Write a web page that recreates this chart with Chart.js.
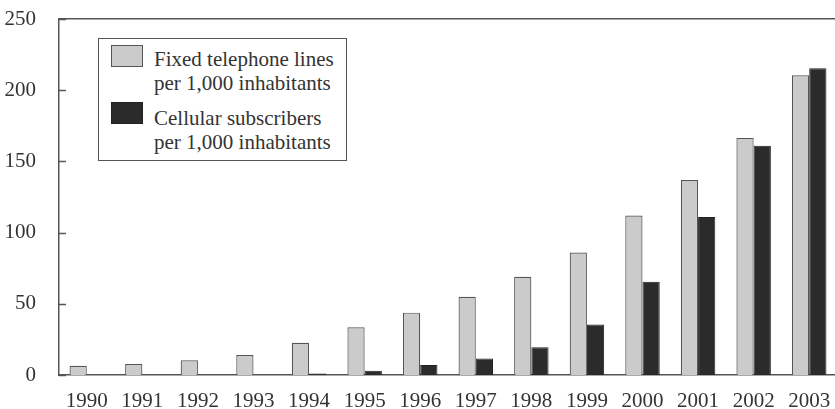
<!DOCTYPE html>
<html>
<head>
<meta charset="utf-8">
<script src="https://cdn.jsdelivr.net/npm/chart.js@4"></script>
<style>
	html, body { margin: 0; padding: 0; background: #fff; overflow: hidden; }
	#wrap { position: relative; width: 837px; height: 409px; }
	#legend {
		position: absolute; left: 98px; top: 38px; width: 247px; height: 121px;
		border: 1.5px solid #555; background: #fff;
		font-family: 'Liberation Serif', 'DejaVu Serif', serif; font-size: 21px; color: #333;
	}
	.item { position: absolute; left: 12px; }
	.sw { position: absolute; left: 0; width: 32px; height: 22px; box-sizing: border-box; }
	.txt { position: absolute; left: 43px; line-height: 24px; white-space: nowrap; }
</style>
</head>
<body>
<div id="wrap">
	<canvas id="telecomChart" width="837" height="409"></canvas>
	<div id="legend">
		<div class="item" style="top:6px">
			<div class="sw" style="background:#cbcbcb;border:1.5px solid #555"></div>
			<div class="txt" style="top:2px">Fixed telephone lines<br>per 1,000 inhabitants</div>
		</div>
		<div class="item" style="top:63px">
			<div class="sw" style="background:#2b2b2b;border:1.5px solid #222"></div>
			<div class="txt" style="top:4px">Cellular subscribers<br>per 1,000 inhabitants</div>
		</div>
	</div>
</div>
<script>
const years = ['1990', '1991', '1992', '1993', '1994', '1995', '1996', '1997', '1998', '1999', '2000', '2001', '2002', '2003'];
const fixedLines = [6.5, 7.7, 10.3, 14, 22.7, 33.5, 43.8, 55, 69, 86, 112, 137, 166.5, 210.5];
const cellular = [0, 0, 0, 0, 1, 3, 7, 11.5, 19.5, 35.5, 65.5, 111, 161, 215.5];
const yTicks = [0, 50, 100, 150, 200, 250];

const serif = "'Liberation Serif', 'DejaVu Serif', serif";

// short ticks pointing into the plot on the y axis
const innerTicks = {
	id: 'innerTicks',
	afterDraw(chart) {
		const ctx = chart.ctx;
		const y = chart.scales.y;
		ctx.save();
		ctx.strokeStyle = '#555';
		ctx.lineWidth = 1.5;
		yTicks.forEach(v => {
			const py = Math.round(y.getPixelForValue(v)) + 0.5;
			ctx.beginPath();
			ctx.moveTo(y.right, py);
			ctx.lineTo(y.right + 7, py);
			ctx.stroke();
		});
		ctx.restore();
	}
};

new Chart(document.getElementById('telecomChart').getContext('2d'), {
	type: 'bar',
	data: {
		labels: years,
		datasets: [{
			label: 'Fixed telephone lines per 1,000 inhabitants',
			data: fixedLines,
			backgroundColor: '#cbcbcb',
			borderColor: '#555',
			borderWidth: 1.2
		}, {
			label: 'Cellular subscribers per 1,000 inhabitants',
			data: cellular,
			backgroundColor: '#2b2b2b',
			borderColor: '#222',
			borderWidth: 1
		}]
	},
	options: {
		responsive: false,
		animation: false,
		layout: { padding: { top: 19, right: 0, left: 0, bottom: 0 } },
		datasets: { bar: { categoryPercentage: 0.62, barPercentage: 1.0 } },
		scales: {
			x: {
				grid: { display: false },
				border: { display: true, color: '#555', width: 1.5 },
				ticks: { color: '#333', font: { family: serif, size: 21 }, padding: 6, maxRotation: 0 },
				afterFit(scale) { scale.height = 34; }
			},
			x2: {
				type: 'category',
				labels: years,
				position: 'top',
				grid: { display: false, drawTicks: false },
				border: { display: true, color: '#555', width: 1.5 },
				ticks: { display: false, padding: 0 },
				afterFit(scale) { scale.height = 0; }
			},
			y: {
				min: 0,
				max: 250,
				afterBuildTicks(scale) { scale.ticks = yTicks.map(v => ({ value: v })); },
				grid: { display: false },
				border: { display: true, color: '#555', width: 1.5 },
				ticks: { color: '#333', font: { family: serif, size: 21 }, padding: 15 },
				afterFit(scale) {
					scale.width = 59;
					scale.paddingTop = 0;
					scale.paddingBottom = 0;
				}
			}
		},
		plugins: {
			legend: { display: false },
			tooltip: { enabled: false }
		}
	},
	plugins: [innerTicks]
});
</script>
</body>
</html>
